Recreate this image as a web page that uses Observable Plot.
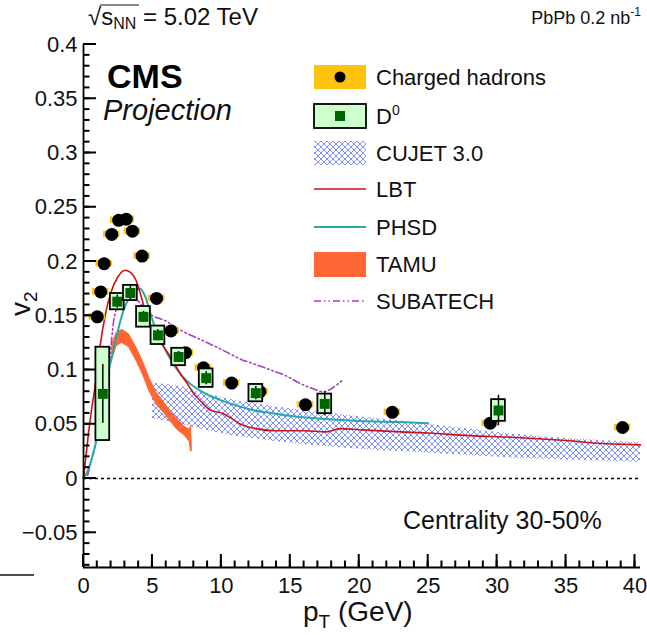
<!DOCTYPE html>
<html><head><meta charset="utf-8">
<script src="https://cdn.jsdelivr.net/npm/d3@7"></script>
<script src="https://cdn.jsdelivr.net/npm/@observablehq/plot@0.6"></script>
<style>
body{margin:0;background:#fff;font-family:"Liberation Sans",Arial,Helvetica,sans-serif;}
#wrap{position:relative;width:647px;height:635px;overflow:hidden;}
#wrap svg{position:absolute;left:0;top:0;}
</style></head><body>
<svg width="0" height="0" style="position:absolute">
  <defs>
    <pattern id="cujetHatch" patternUnits="userSpaceOnUse" width="6" height="6">
      <path d="M0,0L6,6M6,0L0,6M-1,5L1,7M5,-1L7,1" stroke="#6f86ff" stroke-width="0.9" fill="none"/>
    </pattern>
  </defs>
</svg>
<div id="wrap"></div>
<script>
// ---- Charged hadrons ----
const hadronPt = [1.0, 1.25, 1.5, 2.05, 2.55, 3.1, 3.55, 4.25, 5.3, 6.35, 7.4, 8.7, 10.75, 12.8, 16.1, 22.4, 29.5, 39.1];
const hadronV2 = [0.149, 0.172, 0.198, 0.225, 0.238, 0.239, 0.228, 0.205, 0.166, 0.136, 0.116, 0.102, 0.088, 0.080, 0.068, 0.061, 0.051, 0.047];
const hadronSys = 0.003;
// ---- D0 ----
const d0Pt   = [1.4, 2.45, 3.4, 4.35, 5.4, 6.9, 8.9, 12.5, 17.5, 30.1];
const d0V2   = [0.078, 0.163, 0.171, 0.149, 0.132, 0.112, 0.0925, 0.0787, 0.0688, 0.0627];
const d0Stat = [0.027, 0.006, 0.006, 0.005, 0.005, 0.005, 0.006, 0.006, 0.011, 0.014];
const d0Sys  = [0.043, 0.0075, 0.007, 0.0095, 0.0085, 0.008, 0.0085, 0.008, 0.009, 0.01];
const boxHalfWidth = 0.5;
// ---- CUJET 3.0 band ----
const cujetPt   = [5, 7, 9, 11, 14, 17, 20, 23, 27, 31, 35, 40.4];
const cujetHigh = [0.088, 0.085, 0.078, 0.072, 0.066, 0.061, 0.057, 0.053, 0.047, 0.041, 0.037, 0.033];
const cujetLow  = [0.055, 0.050, 0.044, 0.039, 0.034, 0.030, 0.027, 0.025, 0.022, 0.019, 0.017, 0.015];
// ---- LBT ----
const lbtPt = [0, 0.3, 0.6, 0.9, 1.2, 1.6, 2.0, 2.5, 3.0, 3.4, 3.8, 4.2, 4.6, 5.0, 5.5, 6.0, 6.5, 7.0, 7.5, 8.0, 8.6, 9.2, 10.1, 10.8, 11.4, 12.5, 14, 16, 17.6, 18.6, 20, 23, 25, 28, 31, 35, 38, 40.4];
const lbtV2 = [0, 0.035, 0.065, 0.09, 0.122, 0.152, 0.172, 0.186, 0.192, 0.19, 0.183, 0.167, 0.149, 0.137, 0.127, 0.118, 0.108, 0.097, 0.088, 0.078, 0.07, 0.063, 0.06, 0.055, 0.05, 0.046, 0.044, 0.044, 0.043, 0.046, 0.045, 0.043, 0.042, 0.0395, 0.038, 0.035, 0.032, 0.031];
// ---- PHSD ----
const phsdPt = [0, 0.3, 0.9, 1.25, 1.6, 2.2, 2.9, 3.5, 4.1, 4.5, 4.9, 5.3, 5.8, 6.3, 7.0, 7.5, 8.9, 10, 11.4, 12.3, 13.8, 15.5, 17.4, 20, 22.9, 25];
const phsdV2 = [0, 0.007, 0.033, 0.055, 0.084, 0.12, 0.155, 0.17, 0.175, 0.167, 0.15, 0.136, 0.122, 0.11, 0.097, 0.09, 0.078, 0.072, 0.066, 0.063, 0.06, 0.057, 0.055, 0.053, 0.052, 0.051];
// ---- TAMU band ----
const tamuPt   = [2.1, 2.4, 2.8, 3.3, 3.9, 4.3, 4.8, 5.3, 5.8, 6.3, 6.8, 7.3, 7.7, 7.8, 7.85];
const tamuLow  = [0.110, 0.122, 0.125, 0.121, 0.107, 0.096, 0.080, 0.068, 0.061, 0.053, 0.045, 0.040, 0.034, 0.025, 0.025];
const tamuHigh = [0.124, 0.134, 0.137, 0.133, 0.119, 0.108, 0.092, 0.079, 0.071, 0.062, 0.055, 0.048, 0.045, 0.048, 0.030];
// ---- SUBATECH ----
const subPt = [0.3, 0.75, 1.1, 1.6, 1.85, 2.2, 2.7, 3.2, 3.7, 4.2, 4.8, 6.0, 7.0, 8.5, 10, 11.4, 12.5, 13.8, 14.8, 15.5, 16.6, 17.4, 18.0, 18.8];
const subV2 = [0.003, 0.026, 0.047, 0.078, 0.103, 0.146, 0.165, 0.172, 0.168, 0.16, 0.152, 0.145, 0.137, 0.128, 0.119, 0.11, 0.105, 0.099, 0.094, 0.089, 0.083, 0.080, 0.083, 0.091];
// ---- axes ----
const xTicks = [0, 5, 10, 15, 20, 25, 30, 35, 40];
const yTicks = [-0.05, 0, 0.05, 0.1, 0.15, 0.2, 0.25, 0.3, 0.35, 0.4];
const yTickLabels = ["\u22120.05", "0", "0.05", "0.1", "0.15", "0.2", "0.25", "0.3", "0.35", "0.4"];
const xDomain = [0, 40.4];
const yDomain = [-0.082, 0.4];

const W = 647, H = 635, mL = 83, mR = 7, mT = 44, mB = 68;
const zip = (xs, ys) => xs.map((x, i) => ({x, y: ys[i]}));
const hadrons = hadronPt.map((x, i) => ({x, y: hadronV2[i]}));
const d0 = d0Pt.map((x, i) => ({x, y: d0V2[i], st: d0Stat[i], sy: d0Sys[i]}));
const cujet = cujetPt.map((x, i) => ({x, lo: cujetLow[i], hi: cujetHigh[i]}));
const tamu = tamuPt.map((x, i) => ({x, lo: tamuLow[i], hi: tamuHigh[i]}));
const yMinor = d3.range(-80, 401, 10).map(d => d / 1000);
const xMinor = d3.range(0, 41, 1);
const yLabelMap = new Map(yTicks.map((t, i) => [t, yTickLabels[i]]));
const majorLen = 13, minorLen = 6.5, tickHalf = 1.0;
const xPerPx = (xDomain[1] - xDomain[0]) / (W - mL - mR);
const yPerPx = (yDomain[1] - yDomain[0]) / (H - mT - mB);
const yTickRects = [...yMinor.map(v => ({v, len: minorLen})), ...yTicks.map(v => ({v, len: majorLen}))];
const xTickRects = [...xMinor.map(v => ({v, len: minorLen})), ...xTicks.map(v => ({v, len: majorLen}))];

const font = '"Liberation Sans", Arial, Helvetica, sans-serif';

const plot = Plot.plot({
  width: W, height: H,
  marginLeft: mL, marginRight: mR, marginTop: mT, marginBottom: mB,
  style: {fontFamily: font, background: "transparent", overflow: "visible"},
  x: {domain: xDomain},
  y: {domain: yDomain},
  marks: [
    Plot.areaY(cujet, {x: "x", y1: "lo", y2: "hi", fill: "url(#cujetHatch)"}),
    Plot.areaY(tamu, {x: "x", y1: "lo", y2: "hi", fill: "#ff6633", stroke: "#ff6633", strokeWidth: 1}),
    Plot.ruleY([0], {stroke: "#000", strokeWidth: 1.5, strokeDasharray: "3,3"}),
    Plot.line(zip(subPt, subV2), {x: "x", y: "y", stroke: "#a63fc0", strokeWidth: 1.6, strokeDasharray: "7,3,1.5,3,1.5,3", curve: "monotone-x"}),
    Plot.line(zip(phsdPt, phsdV2), {x: "x", y: "y", stroke: "#2aa8a8", strokeWidth: 2, curve: "monotone-x"}),
    Plot.line(zip(lbtPt, lbtV2), {x: "x", y: "y", stroke: "#d01010", strokeWidth: 1.6, curve: "monotone-x"}),
    Plot.rect(hadrons, {x1: d => d.x - 0.6, x2: d => d.x + 0.6, y1: d => d.y - hadronSys, y2: d => d.y + hadronSys, fill: "#ffc20e"}),
    Plot.dot(hadrons, {x: "x", y: "y", r: 6.5, fill: "#000"}),
    Plot.rect(d0, {x1: d => d.x - boxHalfWidth, x2: d => d.x + boxHalfWidth, y1: d => d.y - d.sy, y2: d => d.y + d.sy, fill: "#ccffcc", stroke: "#000", strokeWidth: 1.8}),
    Plot.ruleX(d0, {x: "x", y1: d => d.y - d.st, y2: d => d.y + d.st, stroke: "#000", strokeWidth: 1.5}),
    Plot.dot(d0, {x: "x", y: "y", symbol: "square", r: 5.6, fill: "#006600"}),
    // tick comb: thin filled rects pointing into the frame
    Plot.rect(yTickRects, {x1: () => xDomain[0], x2: d => xDomain[0] + d.len * xPerPx, y1: d => d.v - tickHalf * yPerPx, y2: d => d.v + tickHalf * yPerPx, fill: "#000", inset: 0}),
    Plot.rect(xTickRects, {y1: () => yDomain[0], y2: d => yDomain[0] + d.len * yPerPx, x1: d => d.v - tickHalf * xPerPx, x2: d => d.v + tickHalf * xPerPx, fill: "#000", inset: 0}),
    Plot.ruleX([0], {stroke: "#000", strokeWidth: 1.8}),
    Plot.ruleY([yDomain[0]], {stroke: "#000", strokeWidth: 1.8}),
    Plot.axisY(yTicks, {tickSize: 0, tickPadding: 6, tickFormat: d => yLabelMap.get(d), label: null, fontSize: 22, fill: "#111"}),
    Plot.axisX(xTicks, {tickSize: 0, tickPadding: 10, label: null, fontSize: 22, fill: "#111"})
  ]
});
document.getElementById("wrap").appendChild(plot);

// ---- annotations & legend overlay ----
const ns = "http://www.w3.org/2000/svg";
const legendItems = ["Charged hadrons", "D", "CUJET 3.0", "LBT", "PHSD", "TAMU", "SUBATECH"];
const legendY = [77, 116, 153, 189, 227, 264, 301];
const ov = document.createElementNS(ns, "svg");
ov.setAttribute("width", W); ov.setAttribute("height", H);
ov.style.fontFamily = font;
let html = "";
html += `<text x="88" y="25" font-size="24" fill="#111">\u221A<tspan>s</tspan><tspan font-size="16" dy="4">NN</tspan><tspan dy="-4"> = 5.02 TeV</tspan></text>`;
html += `<line x1="100" y1="5" x2="139" y2="5" stroke="#111" stroke-width="1.2"/>`;
html += `<text x="641" y="24" font-size="18" fill="#111" text-anchor="end">PbPb 0.2 nb<tspan font-size="12" dy="-8">-1</tspan></text>`;
html += `<text x="107" y="88" font-size="34" font-weight="bold" fill="#000">CMS</text>`;
html += `<text x="103" y="120" font-size="29" font-style="italic" fill="#111">Projection</text>`;
html += `<text x="403" y="529" font-size="25" fill="#111">Centrality 30-50%</text>`;
html += `<text x="303" y="621" font-size="28" fill="#111">p<tspan font-size="19" dy="7">T</tspan><tspan dy="-7"> (GeV)</tspan></text>`;
html += `<text transform="translate(30,316) rotate(-90)" font-size="28" fill="#111">v<tspan font-size="19" dy="7">2</tspan></text>`;
const L = 314, R = 366;
html += `<rect x="${L}" y="${legendY[0]-12}" width="${R-L}" height="24" fill="#ffc20e"/>`;
html += `<circle cx="${(L+R)/2}" cy="${legendY[0]}" r="5.5" fill="#000"/>`;
html += `<rect x="${L}" y="${legendY[1]-12}" width="${R-L}" height="24" fill="#ccffcc" stroke="#000" stroke-width="1.8"/>`;
html += `<rect x="${(L+R)/2-5}" y="${legendY[1]-5}" width="10" height="10" fill="#006600"/>`;
html += `<rect x="${L}" y="${legendY[2]-12}" width="${R-L}" height="24" fill="url(#cujetHatch)"/>`;
html += `<line x1="${L}" x2="${R}" y1="${legendY[3]}" y2="${legendY[3]}" stroke="#d01010" stroke-width="1.6"/>`;
html += `<line x1="${L}" x2="${R}" y1="${legendY[4]}" y2="${legendY[4]}" stroke="#2aa8a8" stroke-width="2"/>`;
html += `<rect x="${L}" y="${legendY[5]-12}" width="${R-L}" height="25" fill="#ff6633"/>`;
html += `<line x1="${L}" x2="${R}" y1="${legendY[6]}" y2="${legendY[6]}" stroke="#a63fc0" stroke-width="1.6" stroke-dasharray="7,3,1.5,3,1.5,3"/>`;
legendItems.forEach((t, i) => {
  if (i === 1) {
    html += `<text x="376" y="${legendY[i]+8}" font-size="22" fill="#111">D<tspan font-size="14" dy="-9">0</tspan></text>`;
  } else {
    html += `<text x="376" y="${legendY[i]+8}" font-size="22" fill="#111">${t}</text>`;
  }
});
html += `<line x1="0" x2="34" y1="575" y2="575" stroke="#111" stroke-width="1.5"/>`;
ov.innerHTML = html;
document.getElementById("wrap").appendChild(ov);
</script>
</body></html>
